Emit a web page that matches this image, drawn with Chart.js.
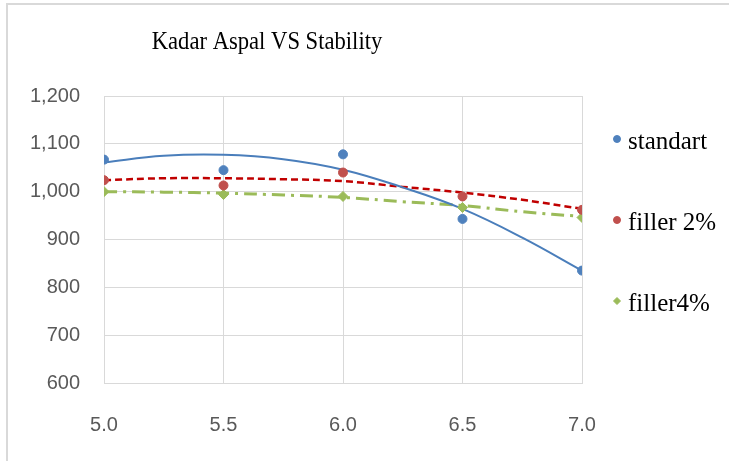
<!DOCTYPE html>
<html lang="en">
<head>
    <meta charset="UTF-8">
    <title>Kadar Aspal VS Stability</title>
    <script src="https://cdn.jsdelivr.net/npm/chart.js"></script>
    <style>
        body { margin: 0; background: #fff; }
        #wrap { position: relative; width: 729px; height: 461px; overflow: hidden; }
        #frame { position: absolute; left: 6px; top: 3px; width: 800px; height: 500px; border: 2px solid #d9d9d9; }
        #chart { position: absolute; left: 0; top: 0; }
    </style>
</head>
<body>
    <div id="wrap">
        <div id="frame"></div>
        <canvas id="chart" width="729" height="461"></canvas>
    </div>

    <script>
        const chartTitle = 'Kadar Aspal VS Stability';
        const seriesNames = ['standart', 'filler 2%', 'filler4%'];

        // measured points
        const kadarAspal = [5.0, 5.5, 6.0, 6.5, 7.0];
        const standart = [1067, 1045, 1078, 943, 835];
        const filler2 = [1024, 1013, 1040, 990, 962];
        const filler4 = [1000, 994, 990, 967, 946];

        // trendlines
        const trendX = [5.0, 5.25, 5.5, 5.75, 6.0, 6.25, 6.5, 6.75, 7.0];
        const trendStandart = [1061, 1075, 1077, 1068, 1046, 1009, 964, 904, 835];
        const trendFiller2 = [1024, 1028, 1028, 1026, 1022, 1010, 998, 983, 964];
        const trendFiller4 = [1000, 999, 997, 993, 988, 979, 971, 958, 948];

        const yTicks = [600, 700, 800, 900, 1000, 1100, 1200];

        const pts = (xs, ys) => xs.map((x, i) => ({x: x, y: ys[i]}));

        // title and legend placed like the Excel original
        const excelBits = {
            id: 'excelBits',
            afterDraw(chart) {
                const ctx = chart.ctx;
                ctx.save();
                ctx.fillStyle = '#000';
                ctx.font = '26px "Liberation Serif", serif';
                ctx.textAlign = 'center';
                ctx.textBaseline = 'alphabetic';
                // the original title is a narrow serif, squeeze it a bit
                ctx.translate(267, 49);
                ctx.scale(0.87, 1);
                ctx.fillText(chartTitle, 0, 0);
                ctx.setTransform(1, 0, 0, 1, 0, 0);

                const rows = [139, 220, 301];
                ctx.font = '25px "Liberation Serif", serif';
                ctx.textAlign = 'left';
                ctx.textBaseline = 'middle';
                seriesNames.forEach((name, i) => {
                    const ds = chart.data.datasets[i];
                    ctx.fillStyle = ds.backgroundColor;
                    ctx.strokeStyle = ds.backgroundColor;
                    Chart.helpers.drawPoint(ctx, {pointStyle: ds.pointStyle, radius: 3.5, rotation: 0, borderWidth: 1}, 617, rows[i]);
                    ctx.fillStyle = '#000';
                    ctx.fillText(name, 628, rows[i] + 3);
                });
                ctx.restore();
            }
        };

        new Chart(document.getElementById('chart'), {
            type: 'scatter',
            data: {
                datasets: [
                    { label: seriesNames[0], data: pts(kadarAspal, standart), backgroundColor: '#4F81BD', borderColor: '#4F81BD', pointStyle: 'circle', pointRadius: 4.5 },
                    { label: seriesNames[1], data: pts(kadarAspal, filler2), backgroundColor: '#C0504D', borderColor: '#C0504D', pointStyle: 'circle', pointRadius: 4.5 },
                    { label: seriesNames[2], data: pts(kadarAspal, filler4), backgroundColor: '#9BBB59', borderColor: '#9BBB59', pointStyle: 'rectRot', pointRadius: 5 },
                    { label: 'trend standart', data: pts(trendX, trendStandart), showLine: true, pointRadius: 0, borderColor: '#4A7EBB', borderWidth: 2, tension: 0.4 },
                    { label: 'trend filler 2%', data: pts(trendX, trendFiller2), showLine: true, pointRadius: 0, borderColor: '#C00000', borderWidth: 2.5, borderDash: [7, 4], tension: 0.4 },
                    { label: 'trend filler4%', data: pts(trendX, trendFiller4), showLine: true, pointRadius: 0, borderColor: '#9BBB59', borderWidth: 3, borderDash: [13, 6, 3, 6], tension: 0.4 }
                ]
            },
            options: {
                responsive: false,
                animation: false,
                layout: { padding: { top: 96, right: 147, left: 0, bottom: 0 } },
                plugins: {
                    legend: { display: false },
                    title: { display: false },
                    tooltip: { enabled: false }
                },
                scales: {
                    x: {
                        min: 5, max: 7,
                        afterFit: s => { s.height = 78; },
                        grid: { color: '#d9d9d9', drawTicks: false },
                        border: { color: '#d9d9d9' },
                        ticks: {
                            stepSize: 0.5, padding: 30, color: '#595959',
                            font: { family: '"Liberation Sans", Arial', size: 20 },
                            callback: v => v.toFixed(1)
                        }
                    },
                    y: {
                        min: yTicks[0], max: yTicks[yTicks.length - 1],
                        afterFit: s => { s.width = 104; },
                        grid: { color: '#d9d9d9', drawTicks: false },
                        border: { color: '#d9d9d9' },
                        ticks: {
                            stepSize: 100, padding: 24, color: '#595959',
                            font: { family: '"Liberation Sans", Arial', size: 20 },
                            callback: v => v.toLocaleString('en-US')
                        }
                    }
                }
            },
            plugins: [excelBits]
        });
    </script>
</body>
</html>
